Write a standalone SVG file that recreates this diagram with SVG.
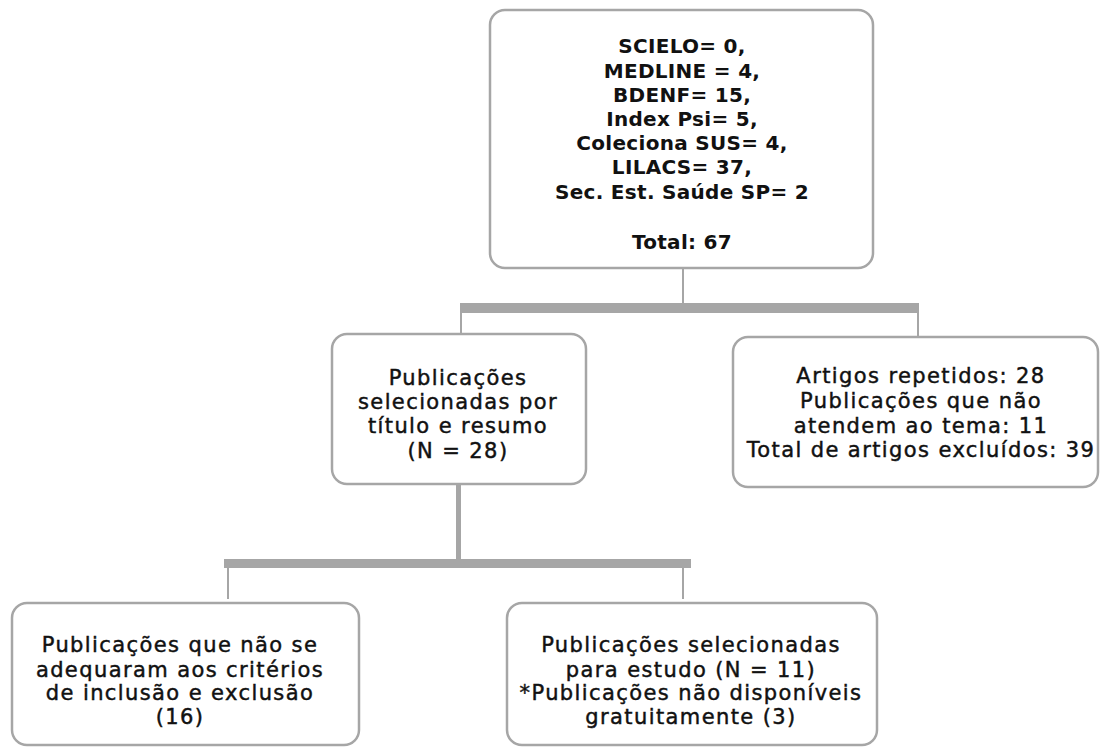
<svg xmlns="http://www.w3.org/2000/svg" width="1101" height="749" viewBox="0 0 1101 749">
<style>
.box{fill:#fff;stroke:#a6a6a6;stroke-width:2.5}
.t{font-family:"DejaVu Sans",sans-serif;font-size:21px;fill:#111;stroke:#111;stroke-width:0.45;text-anchor:middle;letter-spacing:1.4px}
.b{font-size:20px;font-weight:bold;stroke:none;letter-spacing:0.3px}
.thin{stroke:#a6a6a6;stroke-width:2;fill:none}
.bar{fill:#a6a6a6}
</style>
<rect width="1101" height="749" fill="#fff"/>
<g id="connectors">
<line class="thin" x1="683" y1="268" x2="683" y2="303"/>
<rect class="bar" x="460" y="303" width="459" height="10"/>
<line class="thin" x1="461" y1="313" x2="461" y2="334"/>
<line class="thin" x1="918" y1="313" x2="918" y2="337"/>
<rect class="bar" x="456" y="484" width="5" height="76"/>
<rect class="bar" x="224" y="559" width="467" height="9"/>
<line class="thin" x1="228" y1="568" x2="228" y2="599"/>
<line class="thin" x1="683" y1="568" x2="683" y2="599"/>
</g>
<g id="n1">
<rect class="box" x="490" y="10" width="383" height="258" rx="15"/>
<text class="t b" x="682" y="53">SCIELO= 0,</text>
<text class="t b" x="682" y="78">MEDLINE = 4,</text>
<text class="t b" x="682" y="102">BDENF= 15,</text>
<text class="t b" x="682" y="126">Index Psi= 5,</text>
<text class="t b" x="682" y="150">Coleciona SUS= 4,</text>
<text class="t b" x="682" y="174">LILACS= 37,</text>
<text class="t b" x="682" y="199">Sec. Est. Saúde SP= 2</text>
<text class="t b" x="682" y="249">Total: 67</text>
</g>
<g id="n2">
<rect class="box" x="332" y="334" width="254" height="150" rx="15"/>
<text class="t" x="458" y="385">Publicações</text>
<text class="t" x="458" y="409">selecionadas por</text>
<text class="t" x="458" y="433">título e resumo</text>
<text class="t" x="458" y="458">(N = 28)</text>
</g>
<g id="n3">
<rect class="box" x="733" y="337" width="365" height="150" rx="15"/>
<text class="t" x="921" y="383">Artigos repetidos: 28</text>
<text class="t" x="921" y="408">Publicações que não</text>
<text class="t" x="921" y="433">atendem ao tema: 11</text>
<text class="t" x="921" y="457">Total de artigos excluídos: 39</text>
</g>
<g id="n4">
<rect class="box" x="12" y="603" width="347" height="142" rx="15"/>
<text class="t" x="180" y="652">Publicações que não se</text>
<text class="t" x="180" y="677">adequaram aos critérios</text>
<text class="t" x="180" y="700">de inclusão e exclusão</text>
<text class="t" x="180" y="724">(16)</text>
</g>
<g id="n5">
<rect class="box" x="507" y="603" width="370" height="142" rx="15"/>
<text class="t" x="691" y="652">Publicações selecionadas</text>
<text class="t" x="691" y="677">para estudo (N = 11)</text>
<text class="t" x="691" y="700">*Publicações não disponíveis</text>
<text class="t" x="691" y="724">gratuitamente (3)</text>
</g>
</svg>
